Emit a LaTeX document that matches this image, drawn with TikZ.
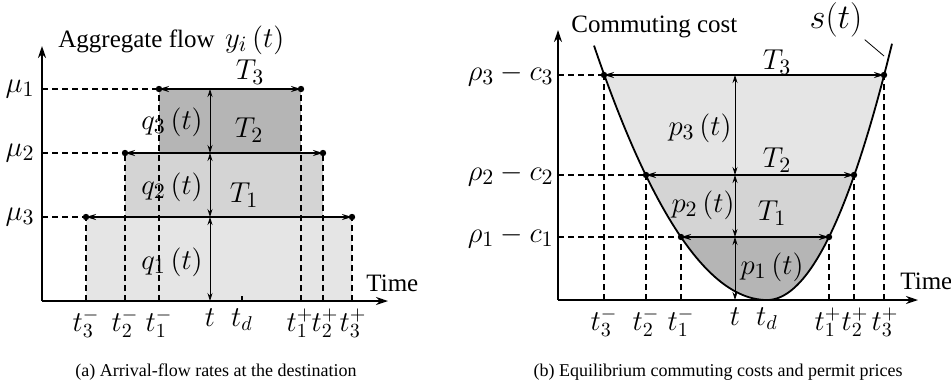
\documentclass[tikz,border=0pt]{standalone}
\usepackage{fontspec}
\setmainfont{Liberation Serif}
\usetikzlibrary{arrows.meta}

\definecolor{shadeA}{gray}{0.90}
\definecolor{shadeB}{gray}{0.83}
\definecolor{shadeC}{gray}{0.71}

\tikzset{
  axis/.style={line width=1pt,-{Stealth[length=6pt,width=4pt]}},
  guide/.style={dash pattern=on 3pt off 2pt, line width=0.6pt},
  span/.style={line width=0.9pt,{Stealth[length=5pt,width=3pt]}-{Stealth[length=5pt,width=3pt]}},
  gap/.style={line width=0.4pt,{Stealth[length=4pt,width=2.5pt]}-{Stealth[length=4pt,width=2.5pt]}},
  lbl/.style={font=\fontsize{12.5}{14}\selectfont, inner sep=1pt},
  mlbl/.style={font=\fontsize{15}{17}\selectfont, inner sep=1pt},
  ticklbl/.style={font=\fontsize{14}{16}\selectfont, inner sep=0pt, anchor=north},
  captext/.style={font=\fontsize{9}{10}\selectfont, inner sep=0pt},
}

\begin{document}
\begin{tikzpicture}[x=0.5pt,y=-0.5pt]
    \useasboundingbox (0,0) rectangle (951,387);
    % ---- (a) arrival-flow rates ----
    \coordinate (o1) at (42,301);
    \coordinate (x1) at (388,301);
    \coordinate (y1) at (42,46);
    \coordinate (tt1) at (210,301);
    % Levels mu_1 .. mu_3
    \foreach \i/\lo/\hi/\y in {1/159/301/89, 2/125/323/153, 3/86/352/217}{
        \coordinate (l\i) at (\lo,\y);
        \coordinate (r\i) at (\hi,\y);
        \coordinate (lb\i) at (\lo,301);
        \coordinate (rb\i) at (\hi,301);
        \coordinate (m\i) at (42,\y);
    }
    % Shaded blocks
    \fill[shadeA] (lb3) rectangle (r3);
    \fill[shadeB] (l2) rectangle (rb2 |- l3);
    \fill[shadeC] (l1) rectangle (r1 |- l2);
    % Dashed guides
    \foreach \i in {1,2,3}{
        \draw[guide] (m\i) -- (l\i);
        \draw[guide] (lb\i) -- (l\i);
        \draw[guide] (rb\i) -- (r\i);
    }
    % Spans with end dots
    \foreach \i in {1,2,3}{
        \draw[span] (l\i) -- (r\i);
        \fill (l\i) circle (1.6pt) (r\i) circle (1.6pt);
    }
    % Gaps q_k(t)
    \draw[gap] (tt1 |- l1) -- (tt1 |- l2);
    \draw[gap] (tt1 |- l2) -- (tt1 |- l3);
    \draw[gap] (tt1 |- l3) -- (tt1);
    % Axes
    \draw[axis] (o1) -- (x1);
    \draw[axis] (o1) -- (y1);
    \draw[line width=0.6pt] (242,301) -- (242,296);
    % Labels
    \node[lbl, anchor=west] (ylab1) at (56,40) {Aggregate flow \,\fontsize{15}{17}\selectfont$y_{i}\,(t)$};
    \node[lbl, anchor=west] (time1) at (364,283) {Time};
    \node[mlbl, anchor=east] (mu1) at (37,89) {$\mu_1$};
    \node[mlbl, anchor=east] (mu2) at (37,153) {$\mu_2$};
    \node[mlbl, anchor=east] (mu3) at (37,217) {$\mu_3$};
    \node[mlbl] (Ta3) at (250,72) {$T_3$};
    \node[mlbl] (Ta2) at (249,130) {$T_2$};
    \node[mlbl] (Ta1) at (244,195) {$T_1$};
    \node[mlbl] (q3) at (172,122) {$q_3\,(t)$};
    \node[mlbl] (q2) at (172,187) {$q_2\,(t)$};
    \node[mlbl] (q1) at (172,262) {$q_1\,(t)$};
    \foreach \n/\x/\txt in {a3m/86/t_3^{-}, a2m/125/t_2^{-}, a1m/159/t_1^{-}, at/210/t, ad/242/t_d,
                            a1p/300/t_1^{+}, a2p/325/t_2^{+}, a3p/353/t_3^{+}}
        \node[ticklbl] (\n) at (\x,308) {$\txt$};
    \node[captext] (capa) at (216,372) {(a) Arrival-flow rates at the destination};

    % ---- (b) commuting costs and permit prices ----
    \coordinate (o2) at (558,300);
    \coordinate (x2) at (918,300);
    \coordinate (y2) at (558,30);
    \coordinate (tt2) at (735,300);
    % Levels rho_k - c_k
    \foreach \i/\lo/\hi/\y in {1/681/829/237, 2/646/854/175, 3/604/884/75}{
        \coordinate (pl\i) at (\lo,\y);
        \coordinate (pr\i) at (\hi,\y);
        \coordinate (plb\i) at (\lo,300);
        \coordinate (prb\i) at (\hi,300);
        \coordinate (pm\i) at (558,\y);
    }
    % Shaded layers under s(t)
    \begin{scope}
        \clip plot[domain=174:0, samples=50] ({767-\x},{300-0.0085*\x*\x})
            -- plot[domain=0:126, samples=50] ({767+\x},{300-0.0164*\x*\x}) -- cycle;
        \fill[shadeA] (pm3) rectangle (x2);
        \fill[shadeB] (pm2) rectangle (x2);
        \fill[shadeC] (pm1) rectangle (x2);
    \end{scope}
    % Dashed guides
    \foreach \i in {1,2,3}{
        \draw[guide] (pm\i) -- (pl\i);
        \draw[guide] (plb\i) -- (pl\i);
        \draw[guide] (prb\i) -- (pr\i);
    }
    % Curve s(t)
    \draw[line width=0.9pt] plot[domain=173:0, samples=50] ({767-\x},{300-0.0085*\x*\x})
        -- plot[domain=0:125, samples=50] ({767+\x},{300-0.0164*\x*\x});
    % Spans with end dots
    \foreach \i in {1,2,3}{
        \draw[span] (pl\i) -- (pr\i);
        \fill (pl\i) circle (1.6pt) (pr\i) circle (1.6pt);
    }
    % Gaps p_k(t)
    \draw[gap] (tt2 |- pl3) -- (tt2 |- pl2);
    \draw[gap] (tt2 |- pl2) -- (tt2 |- pl1);
    \draw[gap] (tt2 |- pl1) -- (tt2);
    % Axes
    \draw[axis] (o2) -- (x2);
    \draw[axis] (o2) -- (y2);
    % Labels
    \node[lbl, anchor=west] (ylab2) at (569,27) {Commuting cost};
    \node[lbl, anchor=west] (time2) at (898,281) {Time};
    \node[mlbl, font=\fontsize{17}{19}\selectfont] (st) at (836,20) {$s(t)$};
    \coordinate (stend) at (884,56);
    \draw[line width=0.4pt] (st.south east) -- (stend);
    \node[mlbl, anchor=east] (rc3) at (556,75) {$\rho_3 - c_3$};
    \node[mlbl, anchor=east] (rc2) at (556,175) {$\rho_2 - c_2$};
    \node[mlbl, anchor=east] (rc1) at (556,237) {$\rho_1 - c_1$};
    \node[mlbl] (Tb3) at (777,62) {$T_3$};
    \node[mlbl] (Tb2) at (777,160) {$T_2$};
    \node[mlbl] (Tb1) at (772,213) {$T_1$};
    \node[mlbl] (p3) at (700,128) {$p_3\,(t)$};
    \node[mlbl] (p2) at (703,205) {$p_2\,(t)$};
    \node[mlbl] (p1) at (772,267) {$p_1\,(t)$};
    \foreach \n/\x/\txt in {b3m/604/t_3^{-}, b2m/646/t_2^{-}, b1m/681/t_1^{-}, bt/735/t, bd/767/t_d,
                            b1p/828/t_1^{+}, b2p/855/t_2^{+}, b3p/885/t_3^{+}}
        \node[ticklbl] (\n) at (\x,307) {$\txt$};
    \node[captext] (capb) at (718,372) {(b) Equilibrium commuting costs and permit prices};
\end{tikzpicture}
\end{document}
